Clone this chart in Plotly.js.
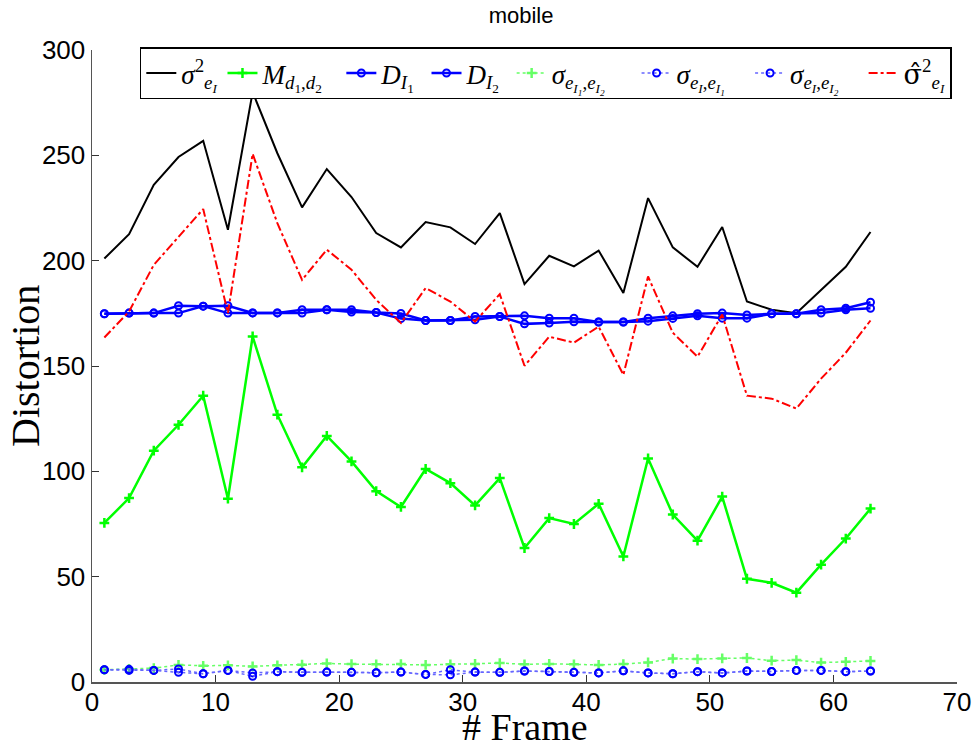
<!DOCTYPE html>
<html>
<head>
<meta charset="utf-8">
<script src="https://cdn.plot.ly/plotly-3.0.1.min.js"></script>
<style>body{margin:0;background:#fff}#chart{width:974px;height:751px}</style>
</head>
<body>
<div id="chart"></div>
<script>
const frames = [1,3,5,7,9,11,13,15,17,19,21,23,25,27,29,31,33,35,37,39,41,43,45,47,49,51,53,55,57,59,61,63];
const sigma2 = [201,212.6,236,249.2,256.9,214.7,280,251,225.3,243.5,230.2,213.1,206.3,218.3,215.8,207.9,222.6,188.9,202.3,197.3,204.8,184.6,229.7,206.3,197.1,216,180.6,176.7,175.1,186.2,197.1,213.6];
const mD = [75.5,87.3,109.8,122.1,135.9,87,164,126.9,101.9,116.8,104.7,90.6,83.1,101.1,94.4,83.8,96.8,63.6,77.8,75,84.6,59.6,106.1,79.5,67.1,88,49,47.1,42.4,55.7,68.1,82.3];
const dI1 = [174.8,175.1,175.1,178.6,178.4,178.6,175.2,175.2,176.7,176.7,176.7,175.4,174.9,171.6,171.6,173.5,173.5,173.8,172.7,172.7,170.9,170.9,171.3,172.6,173.8,172.7,172.7,174.8,174.8,175.1,176.7,177.4];
const dI2 = [174.8,175.1,175.1,175.1,178.4,175.1,175.2,175.2,175.1,176.7,175.6,175.4,172.5,171.6,171.6,171.9,173.5,170.0,170.4,171.0,170.9,170.9,172.7,173.8,174.8,175.1,174.2,174.8,174.8,176.7,177.4,180.3];
const sI1I2 = [5.8,6.2,6.6,8.1,7.7,7.9,7.4,7.9,8.2,8.8,8.5,8.4,8.5,8.1,8.4,8.6,9.0,8.4,8.6,8.4,8.1,8.5,9.3,11.1,10.9,11.2,11.4,10.1,10.4,9.2,9.6,10.0];
const sII1 = [5.8,6.0,5.5,6.2,3.9,5.5,4.3,4.9,4.6,4.7,4.6,4.4,4.7,3.6,5.8,4.7,4.6,5.2,5.0,4.6,4.3,5.3,4.3,3.9,4.9,4.3,5.2,5.0,5.5,5.5,4.9,5.2];
const sII2 = [5.8,5.5,5.5,4.6,3.9,5.5,2.7,4.9,4.6,4.7,4.6,4.4,4.7,3.6,3.4,4.7,4.6,5.2,5.0,4.6,4.3,5.3,4.3,3.9,4.9,4.3,5.2,5.0,5.5,5.5,4.9,5.2];
const sigmaHat = [163.5,175.9,198,211.5,224.5,175.1,250.7,217.8,190.9,205.2,195.7,181.4,170.4,187,180.6,171.1,184.1,150.1,163.9,161.1,168.7,145.8,192.5,165.8,154.4,174.4,135.9,134.5,129.8,144,156.3,171.6];

const N = '\u00A0';
const names = [
  '<i>σ</i><sup>2</sup><sub><i>e<sub>I</sub></i></sub>',
  '<i>M</i><sub><i>d</i><sub>1</sub>,<i>d</i><sub>2</sub></sub>' + N.repeat(2),
  '<i>D</i><sub><i>I</i><sub>1</sub></sub>' + N,
  '<i>D</i><sub><i>I</i><sub>2</sub></sub>' + N,
  '<i>σ</i><sub><i>e<sub>I<sub>1</sub></sub></i>,<i>e<sub>I<sub>2</sub></sub></i></sub>' + N.repeat(4),
  '<i>σ</i><sub><i>e<sub>I</sub></i>,<i>e<sub>I<sub>1</sub></sub></i></sub>' + N.repeat(3),
  '<i>σ</i><sub><i>e<sub>I</sub></i>,<i>e<sub>I<sub>2</sub></sub></i></sub>' + N.repeat(3),
  '<span style="font-family:DejaVu Serif">σ\u0302</span><sup>2</sup><sub><i>e<sub>I</sub></i></sub>'
];

const circ = {symbol:'circle-open', size:7, line:{width:2, color:'#0000ff'}, color:'#0000ff'};
const traces = [
  {x:frames, y:sigma2, name:names[0], mode:'lines', line:{color:'#000', width:2}},
  {x:frames, y:mD, name:names[1], mode:'lines+markers', line:{color:'#00ff00', width:2.5}, marker:{symbol:'cross-thin-open', size:7, line:{width:2.5, color:'#00ff00'}}},
  {x:frames, y:dI1, name:names[2], mode:'lines+markers', line:{color:'#0000ff', width:2.5}, marker:circ},
  {x:frames, y:dI2, name:names[3], mode:'lines+markers', line:{color:'#0000ff', width:2.5}, marker:circ},
  {x:frames, y:sI1I2, name:names[4], mode:'lines+markers', line:{color:'#66ff66', width:1.5, dash:'dot'}, marker:{symbol:'cross-thin-open', size:7, line:{width:2.5, color:'#00ff00'}}},
  {x:frames, y:sII1, name:names[5], mode:'lines+markers', line:{color:'#6666ff', width:1.5, dash:'dot'}, marker:circ},
  {x:frames, y:sII2, name:names[6], mode:'lines+markers', line:{color:'#6666ff', width:1.5, dash:'dot'}, marker:circ},
  {x:frames, y:sigmaHat, name:names[7], mode:'lines', line:{color:'#ff0000', width:2, dash:'dashdot'}}
];

const layout = {
  width:974, height:751,
  margin:{l:92, r:17, t:50, b:69},
  paper_bgcolor:'#fff', plot_bgcolor:'#fff',
  title:{text:'mobile', font:{family:'Liberation Sans, Arial', size:22, color:'#000'}, x:0.535, xanchor:'center', y:0.99, yanchor:'top'},
  showlegend:true,
  legend:{orientation:'h', x:0.994, xanchor:'right', y:1.004, yanchor:'top', bgcolor:'#fff', bordercolor:'#000', borderwidth:1.5,
          font:{family:'Liberation Serif, DejaVu Serif, serif', size:27, color:'#000'}, itemwidth:30, tracegroupgap:0},
  xaxis:{range:[0,70], dtick:10, tick0:0, ticks:'inside', ticklen:7, tickcolor:'#333', showline:true, linecolor:'#555', linewidth:1.5,
         showgrid:false, zeroline:false, mirror:false, automargin:false, ticklabelstandoff:-4,
         tickfont:{family:'Liberation Sans, Arial', size:26, color:'#000'}},
  yaxis:{range:[0,300], dtick:50, tick0:0, ticks:'inside', ticklen:7, tickcolor:'#333', showline:true, linecolor:'#555', linewidth:1.5,
         showgrid:false, zeroline:false, mirror:false, automargin:false,
         tickfont:{family:'Liberation Sans, Arial', size:26, color:'#000'}},
  annotations:[
    {text:'# Frame', xref:'paper', yref:'paper', x:0.5, y:-0.108, xanchor:'center', yanchor:'bottom', showarrow:false,
     font:{family:'Liberation Serif, serif', size:38, color:'#000'}},
    {text:'Distortion', xref:'paper', yref:'paper', x:-0.0775, y:0.5, xanchor:'center', yanchor:'middle', textangle:-90, showarrow:false,
     font:{family:'Liberation Serif, serif', size:40, color:'#000'}}
  ]
};

Plotly.newPlot('chart', traces, layout, {displayModeBar:false, staticPlot:true});
</script>
</body>
</html>
